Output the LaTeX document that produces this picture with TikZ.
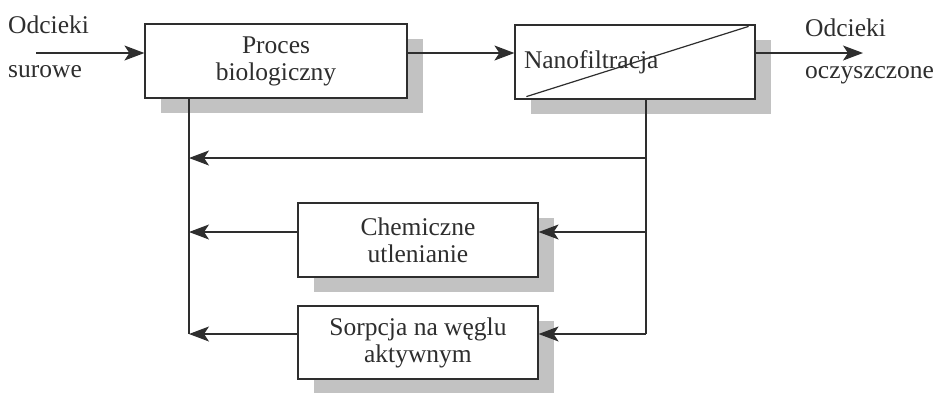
\documentclass[tikz,border=0pt]{standalone}
\usepackage{fontspec}
\setmainfont{Liberation Serif}
\usetikzlibrary{arrows.meta,shadows}
\definecolor{ink}{HTML}{2E2E2E}
\definecolor{shade}{HTML}{C2C2C2}
\begin{document}
\begin{tikzpicture}[x=1pt,y=-1pt,
  font=\fontsize{25.5}{27}\selectfont, text=ink,
  procbox/.style={draw=ink, line width=1.2pt, fill=white, align=center, inner sep=0pt,
    drop shadow={shadow xshift=16pt, shadow yshift=-15pt, fill=shade, opacity=1}},
  conn/.style={draw=ink, line width=1.2pt},
  arr/.style={conn, -{Stealth[length=20pt,width=15pt,inset=5pt]}},
  lbl/.style={anchor=west, inner sep=0pt}]
\useasboundingbox (0,0) rectangle (940,392);
% boxes
\node[procbox, minimum width=262pt, minimum height=74pt] (proc) at (276,61) {Proces\\biologiczny};
\node[procbox, minimum width=240pt, minimum height=74pt, text width=222pt, align=left] (nano) at (635,62) {Nanofiltracja};
\node[procbox, minimum width=240pt, minimum height=74pt] (chem) at (418,240) {Chemiczne\\utlenianie};
\node[procbox, minimum width=240pt, minimum height=73pt] (sorp) at (418,342.5) {Sorpcja na węglu\\aktywnym};
% labels
\node[lbl] (in1) at (8,25) {Odcieki};
\node[lbl] (in2) at (8,72) {surowe};
\node[lbl] (out1) at (805,28) {Odcieki};
\node[lbl] (out2) at (805,75) {oczyszczone};
% coordinates
\coordinate (in) at (36,53);
\coordinate (out) at (863,53);
\coordinate (a1) at (189,158);
\coordinate (a2) at (189,232);
\coordinate (a3) at (189,334);
\coordinate (b1) at (646,158);
\coordinate (b2) at (646,232);
\coordinate (b3) at (646,334);
% membrane diagonal
\draw[conn] ([xshift=12pt,yshift=3pt]nano.south west) -- ([xshift=-7pt,yshift=-2pt]nano.north east);
% main line
\draw[arr] (in) -- (proc.west |- in);
\draw[arr] (proc.east |- in) -- (nano.west |- in);
\draw[arr] (nano.east |- in) -- (out);
% collectors
\draw[conn] (a1 |- proc.south) -- (a3);
\draw[conn] (b1 |- nano.south) -- (b3);
% recycle lines
\draw[arr] (b1) -- (a1);
\draw[arr] (b2) -- (chem.east |- b2);
\draw[arr] (chem.west |- a2) -- (a2);
\draw[arr] (b3) -- (sorp.east |- b3);
\draw[arr] (sorp.west |- a3) -- (a3);
\end{tikzpicture}
\end{document}
